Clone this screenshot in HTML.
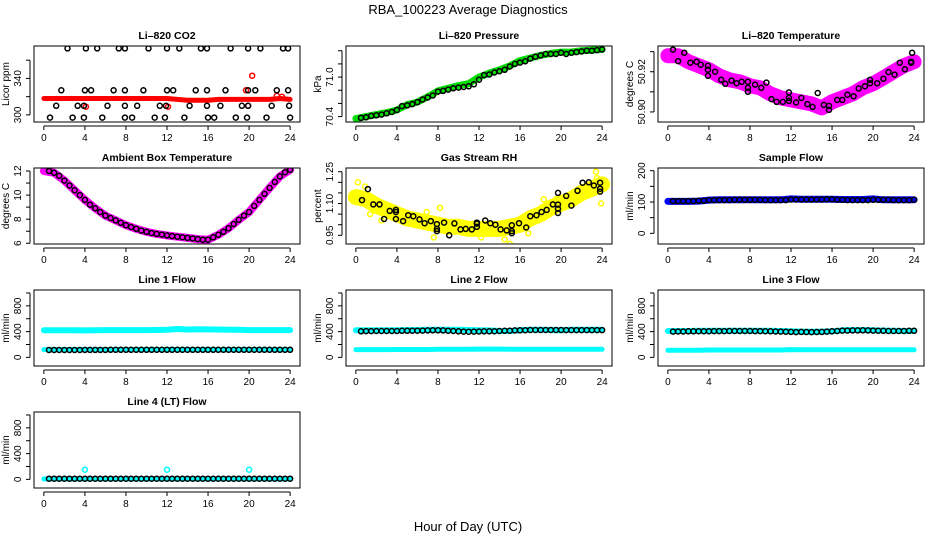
<!DOCTYPE html>
<html><head><meta charset="utf-8"><style>
html,body{margin:0;padding:0;background:#fff;}
svg{display:block;font-family:"Liberation Sans",sans-serif;}
</style></head><body>
<svg id="chart" width="936" height="540" viewBox="0 0 936 540">
<text x="468" y="14" text-anchor="middle" font-size="13">RBA_100223  Average Diagnostics</text>
<text x="468" y="531" text-anchor="middle" font-size="13">Hour of Day (UTC)</text>
</svg>
<script>
// ---------- data ----------
const halfHours = [0.5,1,1.5,2,2.5,3,3.5,4,4.5,5,5.5,6,6.5,7,7.5,8,8.5,9,9.5,10,10.5,11,11.5,12,12.5,13,13.5,14,14.5,15,15.5,16,16.5,17,17.5,18,18.5,19,19.5,20,20.5,21,21.5,22,22.5,23,23.5,24];
const hours = [0,1,2,3,4,5,6,7,8,9,10,11,12,13,14,15,16,17,18,19,20,21,22,23,24];
const xTicks = [0,4,8,12,16,20,24];

const co2Band = [318,318,318,318,318,318,318,318,318,318,318,318,318,317,316,316,316,317,317,317,317,317,317,318,317];
const co2RedT = [4.1,12.1,19.7,19.9,20.3,22.7,23.2];
const co2RedV = [309,309,327,310,343,321,320];
const co2T = [2.3,4.1,5.2,7.3,7.9,10.2,12.0,13.2,15.3,15.9,18.2,19.9,21.1,23.3,23.8,
 1.7,4.0,4.6,6.8,7.9,9.7,12.0,12.6,14.8,15.9,17.7,19.9,20.6,22.7,23.8,
 1.2,3.3,3.9,6.2,7.9,9.1,11.3,11.9,14.2,15.9,17.2,19.3,19.9,22.2,23.9,
 0.6,2.8,3.9,5.7,7.9,8.6,10.8,11.8,13.7,16.0,16.6,18.7,19.8,21.7,24.0];
const co2V = [373,373,373,373,373,373,373,373,373,373,373,373,373,373,373,
 327,327,327,327,327,327,327,327,327,327,327,327,327,327,327,
 310,310,310,310,310,310,310,310,310,310,310,310,310,310,310,
 297,297,297,297,297,297,297,297,297,297,297,297,297,297,297];

const presBand = [70.37,70.40,70.43,70.46,70.50,70.58,70.62,70.70,70.79,70.83,70.87,70.90,71.00,71.06,71.11,71.17,71.25,71.29,71.33,71.36,71.38,71.38,71.40,71.41,71.42];
const presPts = [70.38,70.39,70.41,70.42,70.43,70.45,70.47,70.50,70.56,70.57,70.59,70.62,70.66,70.69,70.72,70.78,70.79,70.81,70.83,70.84,70.85,70.86,70.89,70.96,71.03,71.04,71.07,71.09,71.11,71.16,71.20,71.22,71.24,71.28,71.31,71.33,71.35,71.35,71.35,71.37,71.35,71.37,71.38,71.39,71.40,71.40,71.41,71.42];

const tempBand = [50.928,50.928,50.925,50.923,50.921,50.918,50.916,50.915,50.913,50.912,50.909,50.907,50.906,50.905,50.904,50.902,50.905,50.907,50.909,50.912,50.914,50.917,50.920,50.923,50.925];
const tempT = [0.5,1.0,1.6,2.2,2.8,3.2,3.9,3.9,3.9,4.6,5.2,5.6,6.2,6.7,7.2,7.8,7.8,7.8,8.5,9.1,9.6,10.1,10.6,11.2,11.8,11.8,11.8,12.5,13.0,13.6,14.1,14.6,15.2,15.7,15.7,16.5,17.0,17.5,18.1,18.6,19.2,19.7,19.7,20.4,21.0,21.5,22.1,22.6,23.1,23.7,23.7,23.8];
const tempV = [50.931,50.9253,50.9294,50.9245,50.925,50.9235,50.923,50.921,50.918,50.920,50.916,50.914,50.9156,50.9143,50.915,50.915,50.912,50.910,50.9136,50.912,50.9146,50.9064,50.905,50.905,50.9097,50.907,50.9055,50.9047,50.907,50.9039,50.9025,50.9094,50.9035,50.903,50.901,50.906,50.906,50.9086,50.9078,50.9117,50.9128,50.9143,50.916,50.9143,50.9165,50.9198,50.9186,50.9245,50.9212,50.925,50.9245,50.9294];

const ambBand = [12.0,11.85,11.2,10.4,9.6,8.9,8.3,7.9,7.5,7.2,6.95,6.78,6.65,6.55,6.45,6.35,6.3,6.7,7.25,7.95,8.6,9.6,10.6,11.55,12.1];
const ambPts = [12.0,11.85,11.6,11.2,10.8,10.4,10.0,9.6,9.2,8.9,8.6,8.3,8.1,7.9,7.7,7.5,7.35,7.2,7.05,6.95,6.85,6.78,6.72,6.65,6.6,6.55,6.5,6.45,6.4,6.35,6.3,6.3,6.5,6.7,6.95,7.25,7.6,7.95,8.3,8.6,9.1,9.6,10.1,10.6,11.1,11.55,11.9,12.1];

const rhBand = [1.13,1.12,1.09,1.07,1.05,1.03,1.02,1.01,1.00,0.99,0.99,0.98,0.98,0.98,0.98,0.99,1.00,1.03,1.05,1.08,1.10,1.12,1.15,1.17,1.19];
const rhT = [0.6,1.17,1.7,2.3,2.75,3.3,3.9,3.9,3.9,4.6,5.1,5.6,6.2,6.7,7.3,7.9,7.9,7.9,8.6,9.1,9.6,10.2,10.7,11.3,11.8,11.8,11.8,12.6,13.1,13.6,14.1,14.7,15.2,15.2,15.2,15.9,16.6,17.0,17.6,18.1,18.6,19.2,19.7,19.7,19.7,19.7,20.5,21.0,21.6,22.1,22.7,23.2,23.8,23.8,23.8];
const rhV = [1.116,1.168,1.096,1.096,1.027,1.065,1.07,1.06,1.027,1.017,1.045,1.04,1.025,1.007,1.017,1.003,0.98,0.97,1.01,0.95,1.006,0.978,0.98,0.978,1.01,1.005,0.99,1.02,1.007,1.0,0.978,0.973,0.997,0.97,0.96,1.007,0.987,1.04,1.045,1.06,1.07,1.096,1.15,1.095,1.075,1.055,1.136,1.09,1.16,1.198,1.2,1.185,1.198,1.17,1.156];
const rhYellowT = [0.2,0.3,0.9,1.4,2.5,3.1,6.9,7.6,8.2,12.2,14.5,15.0,16.8,18.3,19.5,22.6,23.4,23.5,23.9];
const rhYellowV = [1.20,1.15,1.18,1.05,1.02,1.09,1.06,0.94,1.08,0.94,0.93,0.91,0.96,1.12,1.12,1.15,1.25,1.22,1.10];

const sfBand = [102,102,102,103,106,107,107,107,107,107,107,107,110,109,109,109,109,108,108,108,110,107,107,107,107];
const sfPts = [103,103,103,103,103,104,104,106,106,106,106,106,107,107,107,107,107,107,106,106,106,106,106,108,108,108,108,108,108,108,109,109,107,107,106,106,106,106,106,107,107,107,107,106,106,106,106,107];

const l1Hi = [420,420,420,421,418,422,423,424,424,424,424,425,428,440,432,438,434,432,430,428,424,424,424,424,424];
const l1Lo = [120,120,120,120,122,120,120,120,120,120,120,120,124,122,120,120,120,120,120,120,122,120,120,120,120];
const l1Pts = [115,115,115,115,115,115,115,116,116,116,116,116,117,117,117,118,118,118,118,118,118,118,118,118,117,117,117,117,117,117,118,118,118,118,118,118,118,118,118,118,118,118,118,118,118,118,118,118];

const l2Hi = [420,420,420,420,420,425,425,428,430,430,430,425,420,418,410,410,420,428,428,425,420,428,430,430,430];
const l2Lo = [120,120,120,120,122,122,122,122,125,125,125,125,128,128,128,125,125,125,125,125,125,125,125,125,125];
const l2Pts = [405,408,408,410,410,410,410,410,412,412,414,414,416,418,420,420,418,414,410,405,400,398,400,402,405,404,406,410,412,414,418,420,422,425,425,425,425,425,425,425,424,424,424,424,424,424,424,424];

const l3Hi = [410,410,410,412,412,412,412,412,412,412,412,410,405,400,398,400,405,420,425,425,420,415,412,410,410];
const l3Lo = [110,110,110,110,115,115,115,115,115,115,115,115,120,118,118,118,118,118,118,118,118,118,118,118,118];
const l3Pts = [400,402,402,404,404,406,406,406,408,408,408,410,410,410,410,410,408,408,406,404,402,400,398,395,392,395,394,392,394,396,400,404,410,415,416,418,418,420,418,415,414,412,410,410,410,410,412,412];

const l4Band = [5,5,5,5,5,5,5,5,5,5,5,5,5,5,5,5,5,5,5,5,5,5,5,5,5];
const l4Pts = [10,10,10,10,10,10,10,10,10,10,10,10,10,10,10,10,10,10,10,10,10,10,10,10,10,10,10,10,10,10,10,10,10,10,10,10,10,10,10,10,10,10,10,10,10,10,10,10];
const l4OutT = [4.0,12.0,20.0];
const l4OutV = [150,150,150];

// ---------- drawing ----------
const NS = 'http://www.w3.org/2000/svg';
const svg = document.getElementById('chart');
const colLeft = [34,346,658];
const PW = 266, PH = 76;
function mk(tag, attrs, parent){
  const e = document.createElementNS(NS, tag);
  for (const k in attrs) e.setAttribute(k, attrs[k]);
  (parent||svg).appendChild(e);
  return e;
}
function panel(name, col, row, title, ylab, ymin, ymax, yticks, ylabels){
  const g = mk('g', {});
  
  
  const L = colLeft[col], T = 46 + 122*row, R = L + PW, B = T + PH;
  const xs = v => L + (v + 0.96) / 25.92 * PW;
  const ys = v => B - (v - ymin) / (ymax - ymin) * PH;
  const t = mk('text', {x: L + PW/2, y: T - 7, 'text-anchor':'middle', 'font-size':'10.5', 'font-weight':'bold'}, g);
  t.textContent = title;
  
  
  // x axis
  const xa = mk('g', {}, g);
  
  
  mk('line', {x1: xs(0), x2: xs(24), y1: B+4, y2: B+4, stroke:'#000'}, xa);
  xTicks.forEach(v => {
    mk('line', {x1: xs(v), x2: xs(v), y1: B+4, y2: B+8, stroke:'#000'}, xa);
    const tx = mk('text', {x: xs(v), y: B+19, 'text-anchor':'middle', 'font-size':'10'}, xa);
    tx.textContent = v;
  });
  // y axis
  const ya = mk('g', {}, g);
  
  
  mk('line', {x1: L-4, x2: L-4, y1: ys(yticks[0]), y2: ys(yticks[yticks.length-1]), stroke:'#000'}, ya);
  yticks.forEach(v => mk('line', {x1: L-8, x2: L-4, y1: ys(v), y2: ys(v), stroke:'#000'}, ya));
  ylabels.forEach(v => {
    const y = ys(parseFloat(v));
    const tx = mk('text', {x: L-13, y: y, 'text-anchor':'middle', 'font-size':'10', transform:`rotate(-90 ${L-13} ${y})`}, ya);
    tx.textContent = v;
  });
  const yl = mk('text', {x: L-25, y: T+PH/2, 'text-anchor':'middle', 'font-size':'10', transform:`rotate(-90 ${L-25} ${T+PH/2})`}, g);
  yl.textContent = ylab;
  
  
  const plot = mk('g', {}, g);
  const clipId = 'c' + name;
  const cp = mk('clipPath', {id: clipId}, g);
  mk('rect', {x: L, y: T, width: PW, height: PH}, cp);
  plot.setAttribute('clip-path', `url(#${clipId})`);
  mk('rect', {x: L, y: T, width: PW, height: PH, fill:'none', stroke:'#000'}, g);
  return {g: plot, xs, ys};
}
function band(p, xsArr, vals, color, width, name){
  const d = vals.map((v,i) => (i ? 'L' : 'M') + p.xs(xsArr[i]).toFixed(1) + ' ' + p.ys(v).toFixed(1)).join(' ');
  const e = mk('path', {d, fill:'none', stroke: color, 'stroke-width': width, 'stroke-linejoin':'round', 'stroke-linecap':'round'}, p.g);
  
  
}
function pts(p, xsArr, vals, color, name, r){
  vals.forEach((v,i) => {
    const c = mk('circle', {cx: p.xs(xsArr[i]).toFixed(1), cy: p.ys(v).toFixed(1), r: r||2.5, fill:'none', stroke: color, 'stroke-width':'1.5'}, p.g);
    
    
  });
}

let p;
p = panel('co2-panel',0,0,'Li\u2013820 CO2','Licor ppm',292.2,375.6,[300,320,340,360],['300','340']);
band(p, hours, co2Band, '#ff0000', 5, 'co2-raw-band');
pts(p, co2RedT, co2RedV, '#ff0000', 'co2-raw-point');
pts(p, co2T, co2V, '#000', 'co2-average-point');

p = panel('pressure-panel',1,0,'Li\u2013820 Pressure','kPa',70.318,71.472,[70.4,70.6,70.8,71.0,71.2,71.4],['70.4','71.0']);
band(p, hours, presBand, '#00dd00', 7, 'pressure-raw-band');
pts(p, halfHours, presPts, '#000', 'pressure-average-point');

p = panel('temperature-panel',2,0,'Li\u2013820 Temperature','degrees C',50.895,50.9328,[50.90,50.91,50.92,50.93],['50.90','50.92']);
band(p, hours, tempBand, '#ff00ff', 15, 'temperature-raw-band');
pts(p, tempT, tempV, '#000', 'temperature-average-point');

p = panel('ambient-temperature-panel',0,1,'Ambient Box Temperature','degrees C',5.94,12.25,[6,7,8,9,10,11,12],['6','8','10','12']);
band(p, hours, ambBand, '#ff00ff', 8, 'ambient-raw-band');
pts(p, halfHours, ambPts, '#000', 'ambient-average-point');

p = panel('rh-panel',1,1,'Gas Stream RH','percent',0.909,1.2675,[0.95,1.00,1.05,1.10,1.15,1.20,1.25],['0.95','1.10','1.25']);
band(p, hours, rhBand, '#ffff00', 16, 'rh-raw-band');
pts(p, rhYellowT, rhYellowV, '#ffff00', 'rh-raw-point');
pts(p, rhT, rhV, '#000', 'rh-average-point');

p = panel('sample-flow-panel',2,1,'Sample Flow','ml/min',-34,208.6,[0,50,100,150,200],['0','100','200']);
band(p, hours, sfBand, '#0000ff', 7, 'sample-flow-raw-band');
pts(p, halfHours, sfPts, '#000', 'sample-flow-average-point');

const flowTicks = [0,200,400,600,800,1000], flowLabels = ['0','400','800'];
p = panel('line1-flow-panel',0,2,'Line 1 Flow','ml/min',-134,1046,flowTicks,flowLabels);
band(p, hours, l1Hi, '#00ffff', 6, 'line1-high-band');
band(p, hours, l1Lo, '#00ffff', 5, 'line1-low-band');
pts(p, halfHours, l1Pts, '#000', 'line1-average-point');

p = panel('line2-flow-panel',1,2,'Line 2 Flow','ml/min',-134,1046,flowTicks,flowLabels);
band(p, hours, l2Hi, '#00ffff', 6, 'line2-high-band');
band(p, hours, l2Lo, '#00ffff', 5, 'line2-low-band');
pts(p, halfHours, l2Pts, '#000', 'line2-average-point');

p = panel('line3-flow-panel',2,2,'Line 3 Flow','ml/min',-134,1046,flowTicks,flowLabels);
band(p, hours, l3Hi, '#00ffff', 6, 'line3-high-band');
band(p, hours, l3Lo, '#00ffff', 5, 'line3-low-band');
pts(p, halfHours, l3Pts, '#000', 'line3-average-point');

p = panel('line4-flow-panel',0,3,'Line 4 (LT) Flow','ml/min',-134,1046,flowTicks,flowLabels);
band(p, hours, l4Band, '#00ffff', 5, 'line4-raw-band');
pts(p, l4OutT, l4OutV, '#00ffff', 'line4-raw-point');
pts(p, halfHours, l4Pts, '#000', 'line4-average-point');
</script>
</body></html>
